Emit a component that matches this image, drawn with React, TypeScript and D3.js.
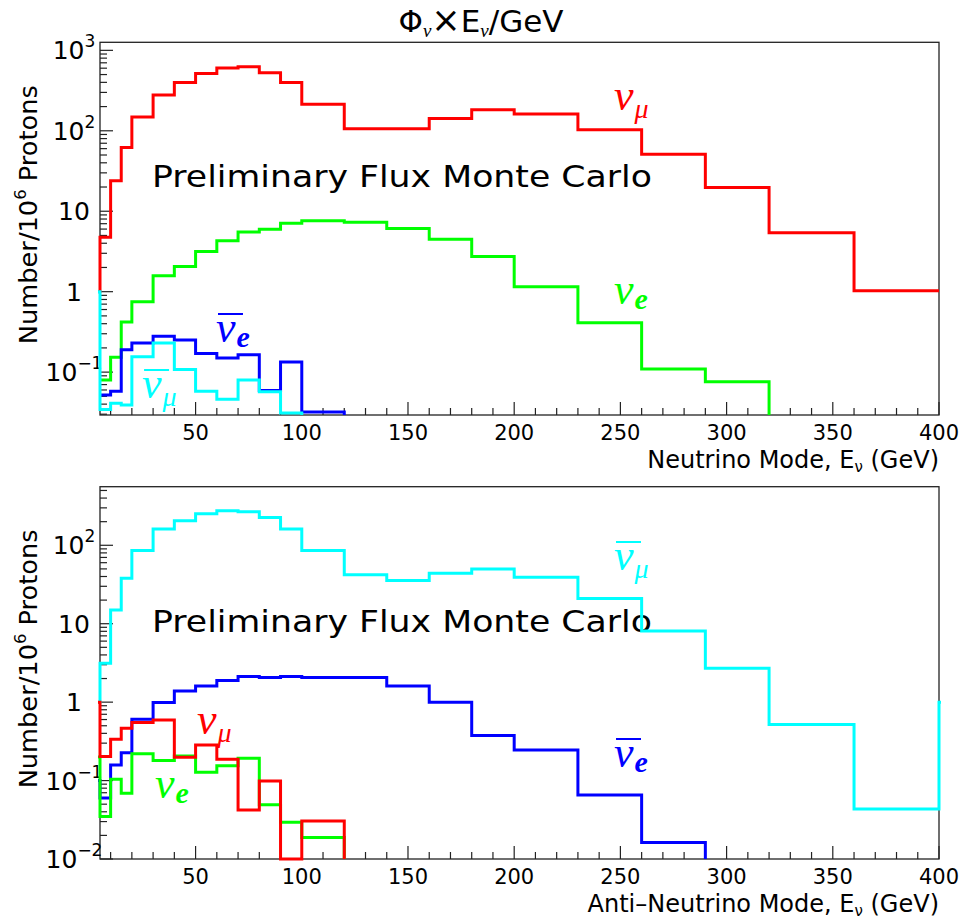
import React from 'react';
import * as d3 from 'd3';

// bin edges in GeV (first bin 0-5 lies left of the visible range)
const EDGES = [0, 5, 10, 15, 20, 30, 40, 50, 60, 70, 80, 90, 100, 120, 140, 160, 180, 200, 230, 260, 290, 320, 360, 400, 440];

// neutrino mode
const nuModeNuMu = [1.0, 4.75, 24, 62, 148, 279, 398, 515, 605, 624, 525, 398, 214, 106, 106, 142, 182, 162, 103, 51, 19.7, 5.4, 1.03];
const nuModeNuE = [0, 0.08, 0.153, 0.42, 0.75, 1.58, 2.05, 3.15, 4.3, 5.5, 5.97, 7.1, 7.6, 7.3, 6.1, 4.5, 2.73, 1.15, 0.41, 0.109, 0.076, 0];
const nuModeNuEBar = [0, 0.052, 0.058, 0.19, 0.23, 0.28, 0.25, 0.171, 0.15, 0.165, 0.059, 0.134, 0.032, 0];
const nuModeNuMuBar = [1.0, 0.0344, 0.041, 0.039, 0.155, 0.23, 0.108, 0.058, 0.046, 0.08, 0.057, 0.031, 0];

// anti-neutrino mode
const antiModeNuMuBar = [1.0, 3.14, 15, 38, 86, 161, 205, 252, 276, 267, 226, 161, 86, 42, 35.6, 44, 50, 39, 21, 8.1, 2.7, 0.52, 0.0435, 1.0];
const antiModeNuEBar = [0.1, 0.06, 0.158, 0.227, 0.607, 0.99, 1.39, 1.61, 1.89, 2.12, 2.06, 2.12, 2.06, 2.06, 1.61, 1.0, 0.375, 0.246, 0.0657, 0.0162, 0];
const antiModeNuMu = [1.0, 0.202, 0.337, 0.466, 0.55, 0.594, 0.199, 0.285, 0.187, 0.0423, 0.099, 0, 0.0306, 0];
const antiModeNuE = [0.2, 0.0348, 0.104, 0.069, 0.219, 0.18, 0.206, 0.128, 0.155, 0.193, 0.049, 0.0295, 0.0188, 0];

const X_TICKS = [50, 100, 150, 200, 250, 300, 350, 400];

const RED = '#ff0000';
const GREEN = '#00ff00';
const BLUE = '#0000ff';
const CYAN = '#00ffff';
const FONT = '"DejaVu Sans", sans-serif';
const SERIF = '"Liberation Serif", serif';

const W = 963;
const H = 920;
const LEFT = 100;
const RIGHT = 939;

const x = d3.scaleLinear().domain([5, 400]).range([LEFT, RIGHT]);

function histPath(values, y, yMin) {
  const first = values.findIndex(v => v > 0);
  let last = values.length - 1;
  while (last >= 0 && !(values[last] > 0)) last--;
  const yv = v => y(Math.max(v, yMin));
  let d = `M${x(EDGES[first])},${yv(values[first])}`;
  for (let i = first; i <= last; i++) {
    if (i > first) d += `V${yv(values[i])}`;
    d += `H${x(EDGES[i + 1])}`;
  }
  if (last < values.length - 1) d += `V${y(yMin)}`;
  return d;
}

const NuLabel = ({ px, py, color, sub, bar }) => {
  const isE = sub === 'e';
  return (
    <g fill={color}>
      <text x={px} y={py} fontFamily={SERIF} fontStyle="italic" fontSize={44}>
        ν
        <tspan fontSize={isE ? 30 : 28} fontWeight={isE ? 'bold' : 'normal'} dx={1} dy={isE ? 5 : 8}>{sub}</tspan>
      </text>
      {bar && <line x1={px + 2} x2={px + 27} y1={py - 28} y2={py - 28} stroke={color} strokeWidth={2} />}
    </g>
  );
};

const Panel = ({ id, top, bottom, logMin, logMax, series, labels, xTitle }) => {
  const yMin = Math.pow(10, logMin);
  const yMax = Math.pow(10, logMax);
  const y = d3.scaleLog().domain([yMin, yMax]).range([bottom, top]);

  const yTicks = [];
  for (let e = Math.floor(logMin); e <= Math.ceil(logMax); e++) {
    for (let k = 1; k <= 9; k++) {
      const v = k * Math.pow(10, e);
      if (v >= yMin && v <= yMax) yTicks.push({ v, major: k === 1, e });
    }
  }
  const xMinor = d3.range(10, 401, 10);

  return (
    <g>
      <defs>
        <clipPath id={`clip-${id}`}>
          <rect x={LEFT - 2} y={top} width={RIGHT - LEFT + 4} height={bottom - top + 2} />
        </clipPath>
      </defs>
      <rect x={LEFT} y={top} width={RIGHT - LEFT} height={bottom - top} fill="none" stroke="#222" strokeWidth={1.3} />
      {yTicks.map((t, i) => (
        <line key={i} x1={LEFT} x2={LEFT + (t.major ? 13 : 7)} y1={y(t.v)} y2={y(t.v)} stroke="#222" strokeWidth={1.2} />
      ))}
      {xMinor.map(v => (
        <line key={v} x1={x(v)} x2={x(v)} y1={bottom} y2={bottom - (v % 50 === 0 ? 13 : 7)} stroke="#222" strokeWidth={1.2} />
      ))}
      {yTicks.filter(t => t.major).map(t => (
        <text key={t.e} x={74} y={y(t.v) + 9} textAnchor="middle" fontFamily={FONT} fontSize={25} fill="#000">
          {t.e === 0 ? '1' : '10'}
          {t.e !== 0 && t.e !== 1 && (
            <tspan fontSize={17} dy={-12}>{t.e < 0 ? '\u2212' + (-t.e) : String(t.e)}</tspan>
          )}
        </text>
      ))}
      {X_TICKS.map(v => (
        <text key={v} x={x(v)} y={bottom + 25} textAnchor="middle" fontFamily={FONT} fontSize={21} fill="#000">{v}</text>
      ))}
      <text x={RIGHT} y={bottom + 53} textAnchor="end" fontFamily={FONT} fontSize={24} fill="#000">
        {xTitle}, E<tspan fontSize={15} dy={4}>ν</tspan><tspan dy={-4}> (GeV)</tspan>
      </text>
      <text transform={`translate(37,${(top + bottom) / 2 - 14}) rotate(-90)`} textAnchor="middle" fontFamily={FONT} fontSize={25} fill="#000"
        textLength={259} lengthAdjust="spacingAndGlyphs">
        Number/10<tspan fontSize={16} dy={-11}>6</tspan><tspan dy={11}> Protons</tspan>
      </text>
      <text x={LEFT + 52} y={top + 145} fontFamily={FONT} fontSize={31} fill="#000" textLength={500} lengthAdjust="spacingAndGlyphs">
        Preliminary Flux Monte Carlo
      </text>
      <g clipPath={`url(#clip-${id})`}>
        {series.map((s, i) => (
          <path key={i} d={histPath(s.values, y, yMin)} fill="none" stroke={s.color} strokeWidth={3} />
        ))}
      </g>
      {labels.map((l, i) => (
        <NuLabel key={i} px={x(l.gev)} py={y(l.val)} color={l.color} sub={l.sub} bar={l.bar} />
      ))}
    </g>
  );
};

export default function App() {
  return (
    <svg width={W} height={H} style={{ display: 'block', background: '#fff', position: 'absolute', left: 0, top: 0 }}>
      <text x={481} y={32} textAnchor="middle" fontFamily={FONT} fontSize={31} fill="#000">
        Φ<tspan fontSize={19} dy={5} fontFamily={SERIF} fontStyle="italic">ν</tspan>
        <tspan dy={-5} fontSize={35}>×</tspan>E<tspan fontSize={19} dy={5} fontFamily={SERIF} fontStyle="italic">ν</tspan>
        <tspan dy={-5}>/GeV</tspan>
      </text>
      <Panel
        id="nu"
        top={42.3}
        bottom={415}
        logMin={-1.533}
        logMax={3.1}
        xTitle="Neutrino Mode"
        series={[
          { values: nuModeNuMu, color: RED },
          { values: nuModeNuE, color: GREEN },
          { values: nuModeNuEBar, color: BLUE },
          { values: nuModeNuMuBar, color: CYAN },
        ]}
        labels={[
          { gev: 247, val: 181, color: RED, sub: 'μ', bar: false },
          { gev: 247, val: 0.7, color: GREEN, sub: 'e', bar: false },
          { gev: 59.6, val: 0.237, color: BLUE, sub: 'e', bar: true },
          { gev: 24.8, val: 0.0477, color: CYAN, sub: 'μ', bar: true },
        ]}
      />
      <Panel
        id="anti"
        top={486.7}
        bottom={859}
        logMin={-2}
        logMax={2.747}
        xTitle={'Anti\u2013Neutrino Mode'}
        series={[
          { values: antiModeNuMuBar, color: CYAN },
          { values: antiModeNuEBar, color: BLUE },
          { values: antiModeNuE, color: GREEN },
          { values: antiModeNuMu, color: RED },
        ]}
        labels={[
          { gev: 247, val: 48.4, color: CYAN, sub: 'μ', bar: true },
          { gev: 247, val: 0.149, color: BLUE, sub: 'e', bar: true },
          { gev: 50.7, val: 0.393, color: RED, sub: 'μ', bar: false },
          { gev: 30.9, val: 0.06, color: GREEN, sub: 'e', bar: false },
        ]}
      />
    </svg>
  );
}
